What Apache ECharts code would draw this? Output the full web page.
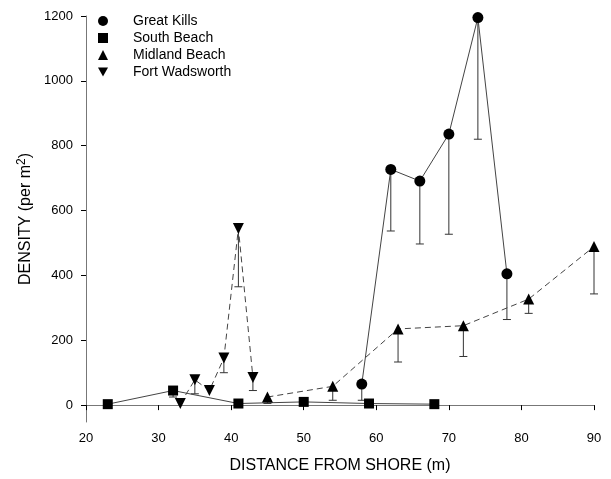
<!DOCTYPE html>
<html>
<head>
<meta charset="utf-8">
<script src="https://cdn.jsdelivr.net/npm/echarts@6/dist/echarts.min.js"></script>
<style>
  html, body { margin: 0; padding: 0; background: #fff; }
  #chart { width: 611px; height: 479px; }
</style>
</head>
<body>
<div id="chart"></div>
<script>
// distances (m), densities and lower error values
const gkX = [58, 62, 66, 70, 74, 78];
const gkY = [65, 727, 691, 836, 1195, 405];
const gkLow = [15, 537, 497, 527, 820, 264];

const sbX = [23, 32, 41, 50, 59, 68];
const sbY = [3, 45, 5, 10, 5, 3];
const sbLow = [null, 25, null, null, null, null];

const mbX = [45, 54, 63, 72, 81, 90];
const mbY = [25, 58, 235, 245, 327, 489];
const mbLow = [5, 15, 133, 150, 283, 343];

const fwX = [33, 35, 37, 39, 41, 43];
const fwY = [5, 78, 45, 145, 545, 85];
const fwLow = [null, 35, null, 100, 365, 45];

const yTicks = [0, 200, 400, 600, 800, 1000, 1200];

const invTri = 'path://M0,0L10,0L5,9Z';

function pts(xs, ys) {
    return xs.map(function (x, i) { return [x, ys[i]]; });
}

function bars(xs, ys, lows) {
    let out = [];
    for (let i = 0; i < xs.length; i++) {
        if (lows[i] !== null) out.push([xs[i], ys[i], lows[i]]);
    }
    return out;
}

function renderBar(params, api) {
    const p = api.coord([api.value(0), api.value(1)]);
    const q = api.coord([api.value(0), api.value(2)]);
    const w = 4;
    const st = { stroke: '#333', lineWidth: 1 };
    return {
        type: 'group',
        children: [
            { type: 'line', shape: { x1: p[0], y1: p[1], x2: q[0], y2: q[1] }, style: st },
            { type: 'line', shape: { x1: q[0] - w, y1: q[1], x2: q[0] + w, y2: q[1] }, style: st }
        ]
    };
}

function lineSeries(name, data, symbol, size, dashed, rotate) {
    return {
        name: name,
        type: 'line',
        data: data,
        symbol: symbol,
        symbolSize: size,
        symbolRotate: rotate || 0,
        itemStyle: { color: '#000' },
        lineStyle: { color: '#444', width: 1, type: dashed ? [6, 4] : 'solid' },
        z: 3,
        animation: false
    };
}

function barSeries(data) {
    return {
        type: 'custom',
        renderItem: renderBar,
        data: data,
        z: 2,
        silent: true,
        animation: false
    };
}

const chart = echarts.init(document.getElementById('chart'));

option = {
    backgroundColor: '#fff',
    textStyle: { fontFamily: 'Liberation Sans, Arial, sans-serif' },
    grid: { left: 86, right: 17, top: 16, bottom: 51 },
    legend: {
        orient: 'vertical',
        left: 93,
        top: 9,
        itemWidth: 10,
        itemHeight: 10,
        itemGap: 3,
        textStyle: { fontSize: 14, lineHeight: 14, color: '#000', padding: [0, 0, 0, 20] },
        data: [
            { name: 'Great Kills', icon: 'circle' },
            { name: 'South Beach', icon: 'rect' },
            { name: 'Midland Beach', icon: 'triangle' },
            { name: 'Fort Wadsworth', icon: invTri }
        ]
    },
    xAxis: {
        type: 'value',
        min: 20,
        max: 90,
        interval: 10,
        name: 'DISTANCE FROM SHORE (m)',
        nameLocation: 'middle',
        nameGap: 36,
        nameTextStyle: { fontSize: 16, color: '#000' },
        axisLine: { lineStyle: { color: '#777', width: 1 } },
        axisTick: { inside: false, length: 5, lineStyle: { color: '#000' } },
        axisLabel: { fontSize: 13, color: '#000', margin: 10 },
        splitLine: { show: false }
    },
    yAxis: {
        type: 'value',
        min: -52,
        max: 1200,
        name: 'DENSITY (per m{sup|2})',
        nameLocation: 'middle',
        nameGap: 45,
        nameTextStyle: {
            fontSize: 16,
            color: '#000',
            rich: { sup: { fontSize: 12, verticalAlign: 'top', padding: [0, 0, 6, 0], color: '#000' } }
        },
        axisLine: { show: true, lineStyle: { color: '#777', width: 1 } },
        axisTick: { show: true, length: 5, customValues: yTicks, lineStyle: { color: '#000' } },
        axisLabel: {
            fontSize: 13,
            color: '#000',
            margin: 13,
            customValues: yTicks,
            formatter: function (v) { return String(v); }
        },
        splitLine: { show: false }
    },
    series: [
        lineSeries('Great Kills', pts(gkX, gkY), 'circle', 11, false),
        lineSeries('South Beach', pts(sbX, sbY), 'rect', 10, false),
        lineSeries('Midland Beach', pts(mbX, mbY), 'triangle', 11, true),
        lineSeries('Fort Wadsworth', pts(fwX, fwY), 'triangle', 11, true, 180),
        barSeries(bars(gkX, gkY, gkLow)),
        barSeries(bars(sbX, sbY, sbLow)),
        barSeries(bars(mbX, mbY, mbLow)),
        barSeries(bars(fwX, fwY, fwLow))
    ]
};

chart.setOption(option);
</script>
</body>
</html>
